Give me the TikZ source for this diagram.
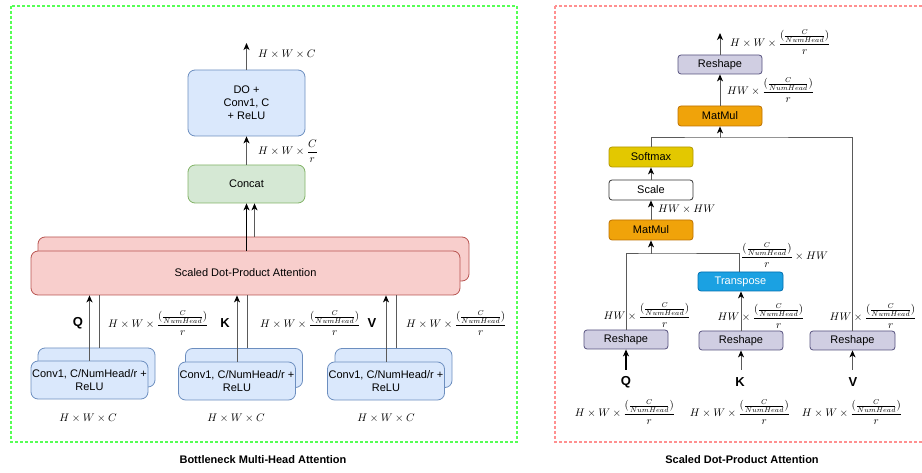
\documentclass[tikz,border=0pt]{standalone}
\usepackage{fontspec}
\setmainfont{Liberation Sans}
\usetikzlibrary{arrows.meta}

\definecolor{bfill}{HTML}{DAE8FC}\definecolor{bdraw}{HTML}{6C8EBF}
\definecolor{gfill}{HTML}{D5E8D4}\definecolor{gdraw}{HTML}{82B366}
\definecolor{rfill}{HTML}{F8CECC}\definecolor{rdraw}{HTML}{B85450}
\definecolor{pfill}{HTML}{D0CEE2}\definecolor{pdraw}{HTML}{56517E}
\definecolor{ofill}{HTML}{F0A30A}\definecolor{odraw}{HTML}{BD7000}
\definecolor{yfill}{HTML}{E3C800}\definecolor{ydraw}{HTML}{B09500}
\definecolor{tfill}{HTML}{1BA1E2}\definecolor{tdraw}{HTML}{006EAF}
\definecolor{wire}{HTML}{5A5A5A}
\definecolor{frameG}{HTML}{55FF55}
\definecolor{frameR}{HTML}{FF9090}

\newcommand{\hwfrac}{{\displaystyle\frac{(\frac{C}{NumHead})}{r}}}

\tikzset{
  box/.style={draw, rounded corners=3pt, inner sep=0pt, align=center,
    line width=0.8pt, font=\fontsize{11}{13}\selectfont},
  bigbox/.style={box, rounded corners=7pt},
  sz/.style 2 args={minimum width=#1, minimum height=#2},
  bluebox/.style={bigbox, fill=bfill, draw=bdraw},
  greenbox/.style={bigbox, fill=gfill, draw=gdraw},
  redbox/.style={bigbox, fill=rfill, draw=rdraw},
  purplebox/.style={box, fill=pfill, draw=pdraw, sz={84}{19}},
  orangebox/.style={box, fill=ofill, draw=odraw, sz={84}{20}},
  wire/.style={draw=wire, line width=1pt},
  flow/.style={wire, -{Stealth[length=7pt,width=6pt,inset=2pt,color=black]}},
  dim/.style={inner sep=0pt, font=\fontsize{10.5}{12}\selectfont},
  qkv/.style={inner sep=0pt, font=\fontsize{13}{15}\selectfont\bfseries},
  title/.style={inner sep=0pt, font=\fontsize{11}{13}\selectfont\bfseries},
  frame/.style={dash pattern=on 3pt off 2pt, line width=1.2pt},
}

\begin{document}
\begin{tikzpicture}[x=1pt, y=-1pt]
\useasboundingbox (0,0) rectangle (922,473);

% ---------------- Bottleneck Multi-Head Attention ----------------
\draw[frame, draw=frameG] (11,6) rectangle (517,442);
\node[title] (t1) at (263,460) {Bottleneck Multi-Head Attention};

\node[bluebox, sz={117}{66}] (do) at (246.5,103) {DO +\\Conv1, C\\+ ReLU};
\node[greenbox, sz={117}{38}] (concat) at (246.5,184) {Concat};

\node[redbox, sz={431}{44}] (attB) at (253.5,259) {};
\node[redbox, sz={429}{44}] (attF) at (245.5,273) {Scaled Dot-Product Attention};

\node[bluebox, sz={117}{39}] (cB1) at (96.5,367.5) {};
\node[bluebox, sz={117}{38}] (cF1) at (89.5,380) {Conv1, C/NumHead/r +\\ReLU};
\node[bluebox, sz={117}{39}] (cB2) at (244,368) {};
\node[bluebox, sz={117}{38}] (cF2) at (237,381) {Conv1, C/NumHead/r +\\ReLU};
\node[bluebox, sz={117}{39}] (cB3) at (393.5,368) {};
\node[bluebox, sz={117}{38}] (cF3) at (386,381) {Conv1, C/NumHead/r +\\ReLU};

% inputs into the attention block
\draw[flow, line width=1.5pt] (cF1.north) -- (cF1.north |- attF.south);
\draw[wire] ([xshift=2.5]cB1.north) -- ([xshift=2.5]cB1.north |- attF.south);
\draw[flow] (cF2.north) -- (cF2.north |- attF.south);
\draw[wire] ([xshift=3]cB2.north) -- ([xshift=3]cB2.north |- attF.south);
\draw[flow] (cF3.north) -- (cF3.north |- attF.south);
\draw[wire] ([xshift=2.5]cB3.north) -- ([xshift=2.5]cB3.north |- attF.south);

\node[qkv] (qL) at (78,323) {Q};
\node[qkv] (kL) at (225,323) {K};
\node[qkv] (vL) at (372,323) {V};
\node[dim, anchor=west] (dq) at (108,323) {$H\times W\times \hwfrac$};
\node[dim, anchor=west] (dk) at (260,323) {$H\times W\times \hwfrac$};
\node[dim, anchor=west] (dv) at (406,323) {$H\times W\times \hwfrac$};

\node[dim] (in1) at (88,418) {$H\times W\times C$};
\node[dim] (in2) at (236,418) {$H\times W\times C$};
\node[dim] (in3) at (386,418) {$H\times W\times C$};

% attention heads into concat
\draw[flow, draw=black] (concat.south |- attF.north) -- (concat.south);
\draw[flow] ([xshift=8]concat.south |- attB.north) -- ([xshift=8]concat.south);

\draw[flow] (concat.north) -- (do.south);
\node[dim, anchor=west] (dc) at (258,151) {$H\times W\times {\displaystyle\frac{C}{r}}$};
\coordinate (outL) at (246.5,43);
\draw[flow] (do.north) -- (outL);
\node[dim, anchor=west] (dout) at (258,54) {$H\times W\times C$};

% ---------------- Scaled Dot-Product Attention ----------------
\draw[frame, draw=frameR] (555,6) rectangle (930,442);
\node[title] (t2) at (742,460) {Scaled Dot-Product Attention};

\node[purplebox] (rsTop) at (720,64.5) {Reshape};
\node[orangebox] (mm1) at (720,116) {MatMul};
\node[box, fill=yfill, draw=ydraw, sz={84}{20}] (soft) at (651,157) {Softmax};
\node[box, fill=white, draw=black!80, sz={84}{20}] (scale) at (651,190) {Scale};
\node[orangebox] (mm2) at (651,230) {MatMul};
\node[box, fill=tfill, draw=tdraw, text=white, sz={85}{19}] (tr) at (740.5,281.5) {Transpose};
\node[purplebox] (rsQ) at (626,339.5) {Reshape};
\node[purplebox] (rsK) at (741,340.5) {Reshape};
\node[purplebox, minimum width=85] (rsV) at (852.5,340.5) {Reshape};

\coordinate (j1) at (720,138);
\coordinate (j2) at (651,254);

\draw[wire] (soft.north) |- (j1) -| (rsV.north);
\draw[flow] (j1) -- (mm1.south);
\draw[flow] (mm1.north) -- (rsTop.south);
\coordinate (outR) at (720,33);
\draw[flow] (rsTop.north) -- (outR);

\draw[wire] (rsQ.north) |- (j2) -| ([xshift=-1.5]tr.north);
\draw[flow] (j2) -- (mm2.south);
\draw[flow] (mm2.north) -- (scale.south);
\draw[flow] (scale.north) -- (soft.south);
\draw[flow] (rsK.north) -- ([xshift=0.5]tr.south);

\node[qkv] (qR) at (626,382) {Q};
\node[qkv] (kR) at (740,382) {K};
\node[qkv] (vR) at (853,382) {V};
\coordinate (qIn) at (626,370);
\coordinate (kIn) at (741,370);
\coordinate (vIn) at (852.5,370);
\draw[flow, draw=black, line width=2pt] (qIn) -- (rsQ.south);
\draw[flow] (kIn) -- (rsK.south);
\draw[flow] (vIn) -- (rsV.south);

\node[dim, anchor=west] (dr1) at (730,42) {$H\times W\times \hwfrac$};
\node[dim, anchor=west] (dr2) at (727,90) {$HW\times \hwfrac$};
\node[dim, anchor=west] (dr3) at (658,209) {$HW\times HW$};
\node[dim, anchor=west] (dr4) at (741,255) {$\hwfrac\times HW$};
\node[dim] (dr5) at (647,315) {$HW\times \hwfrac$};
\node[dim] (dr6) at (761,316) {$HW\times \hwfrac$};
\node[dim] (dr7) at (873,316) {$HW\times \hwfrac$};

\node[dim] (br1) at (625,412) {$H\times W\times \hwfrac$};
\node[dim] (br2) at (740,412) {$H\times W\times \hwfrac$};
\node[dim] (br3) at (852,412) {$H\times W\times \hwfrac$};
\end{tikzpicture}
\end{document}
